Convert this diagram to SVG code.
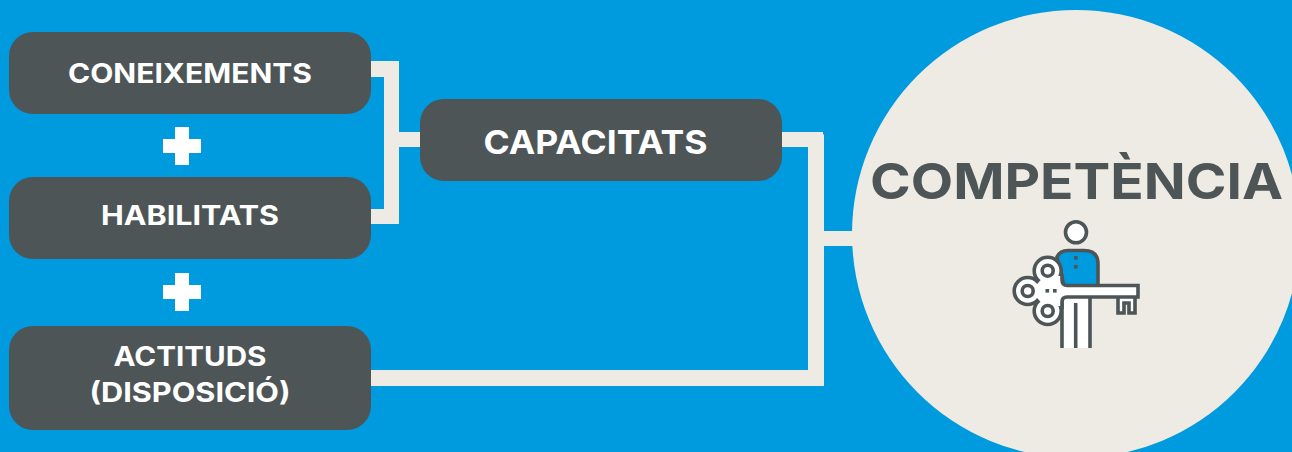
<svg xmlns="http://www.w3.org/2000/svg" width="1292" height="452" viewBox="0 0 1292 452">
<style>
.n{fill:#4d5557}
.t{font-family:"Inter","Liberation Sans",sans-serif;font-weight:700;fill:#fff;text-anchor:middle}
.c{fill:#eeebe5}
.p{fill:#fff}
.s{stroke:#4d5557;stroke-width:3.6;fill:#fff}
</style>
<rect width="1292" height="452" fill="#009ade"/>
<g id="connectors" class="c">
<path d="M371 61H399V132H420V147H399V224H371V209H384V77H371Z"/>
<path d="M782 132H823V134.500H824V231H855V246H824V386H371V370H808V147H782Z"/>
</g>
<g id="plus1" class="p"><path d="M175 127H189V139H201V153H189V165H175V153H163V139H175Z"/></g>
<g id="plus2" class="p"><path d="M175 273H189V285H201V299H189V311H175V299H163V285H175Z"/></g>
<g id="coneixements"><rect class="n" x="9" y="32" width="362" height="82" rx="24"/><text class="t" x="190" y="83" font-size="27" textLength="244" lengthAdjust="spacingAndGlyphs">CONEIXEMENTS</text></g>
<g id="habilitats"><rect class="n" x="9" y="177" width="362" height="82" rx="24"/><text class="t" x="190" y="225" font-size="27" textLength="178" lengthAdjust="spacingAndGlyphs">HABILITATS</text></g>
<g id="actituds"><rect class="n" x="9" y="326" width="362" height="104" rx="24"/><text class="t" x="190" y="366" font-size="27" textLength="153" lengthAdjust="spacingAndGlyphs">ACTITUDS</text><text class="t" x="190" y="402" font-size="27" textLength="201" lengthAdjust="spacingAndGlyphs">(DISPOSICIÓ)</text></g>
<g id="capacitats"><rect class="n" x="420" y="99" width="362" height="82" rx="24"/><text class="t" x="595.500" y="154" font-size="33" textLength="224" lengthAdjust="spacingAndGlyphs">CAPACITATS</text></g>
<g id="competencia">
<circle class="c" cx="1076" cy="234" r="224"/>
<text x="1076.500" y="199" font-family="Inter,'Liberation Sans',sans-serif" font-weight="700" font-size="50" fill="#4d5557" text-anchor="middle" textLength="413" lengthAdjust="spacingAndGlyphs">COMPETÈNCIA</text>
<g id="icon">
<circle class="s" cx="1076" cy="232.300" r="10.500"/>
<path class="s" d="M1062 348V280H1090V348"/>
<path d="M1075.700 303V348" stroke="#4d5557" stroke-width="3.600" fill="none"/>
<path d="M1057 257Q1060 250.500 1068 250.500H1084Q1098 250.500 1098 264V286H1064Z" fill="#009ade" stroke="#4d5557" stroke-width="3.600"/>
<rect class="n" x="1074" y="256" width="3.600" height="3.600"/><rect class="n" x="1074" y="265" width="3.600" height="3.600"/>
<path class="s" d="M1118 296V313H1124V303H1129V313H1135V296Z"/>
<circle class="s" cx="1047.700" cy="270.700" r="13.500"/><circle class="s" cx="1027.700" cy="291" r="13.500"/><circle class="s" cx="1047.700" cy="311" r="13.500"/>
<path d="M1046 274L1059.500 276H1063V286H1137V296H1067Q1063 296 1063 301V306H1059L1046 308L1031 291Z" fill="#fff"/>
<path d="M1062 274V280Q1062 285.500 1067 285.500H1138V297H1067Q1062 297 1062 302V309" fill="none" stroke="#4d5557" stroke-width="3.600"/>
<circle class="s" cx="1047.700" cy="270.700" r="5.500"/><circle class="s" cx="1027.700" cy="291" r="5.500"/><circle class="s" cx="1047.700" cy="311" r="5.500"/>
<rect class="n" x="1045.500" y="289" width="3.600" height="3.600"/><rect class="n" x="1053" y="289" width="3.600" height="3.600"/>
</g>
</g>
</svg>
